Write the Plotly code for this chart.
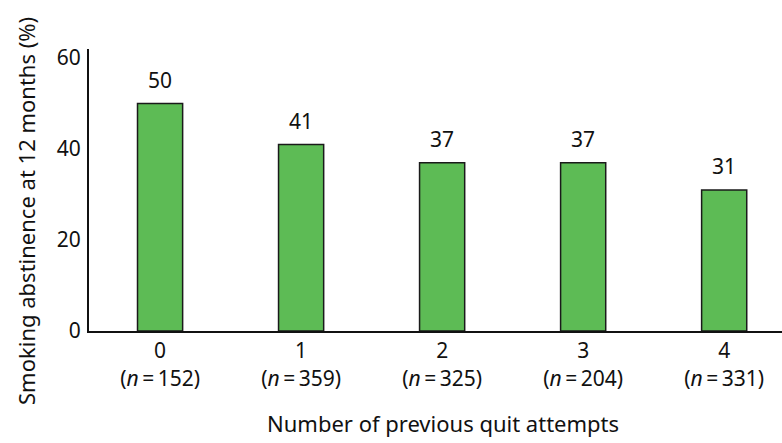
import plotly.graph_objects as go

# Quit attempts before the study, sample sizes and 12-month abstinence
attempts = [0, 1, 2, 3, 4]
sample_sizes = [152, 359, 325, 204, 331]
abstinence = [50, 41, 37, 37, 31]

FONT = "Noto Sans"
SIZE = 21
TITLE_SIZE = 22
tick_text = [f"{a}<br>(<i>n</i>\u2009=\u2009{n})" for a, n in zip(attempts, sample_sizes)]

fig = go.Figure(
    go.Bar(
        x=attempts,
        y=abstinence,
        width=0.32,
        marker=dict(color="#5dbb55", line=dict(color="#1a1a1a", width=1.5)),
        hoverinfo="skip",
    )
)

# value labels above each bar
for a, v in zip(attempts, abstinence):
    fig.add_annotation(
        x=a, y=v, text=str(v), showarrow=False,
        yanchor="bottom", yshift=8,
        font=dict(family=FONT, size=SIZE, color="#111"),
    )

# axis titles
fig.add_annotation(
    xref="paper", yref="paper", x=0.5, y=0, xshift=7, yshift=-92,
    text="Number of previous quit attempts", showarrow=False,
    yanchor="middle", xanchor="center",
    font=dict(family=FONT, size=TITLE_SIZE, color="#111"),
)
fig.add_annotation(
    xref="paper", yref="paper", x=0, y=0.5, xshift=-63, yshift=-21,
    text="Smoking abstinence at 12 months (%)", showarrow=False,
    textangle=-90, xanchor="center", yanchor="middle",
    font=dict(family=FONT, size=TITLE_SIZE, color="#111"),
)

fig.update_layout(
    width=782, height=443,
    margin=dict(l=89, r=0, t=49, b=112),
    paper_bgcolor="white", plot_bgcolor="white",
    showlegend=False,
    font=dict(family=FONT, size=SIZE, color="#111"),
    xaxis=dict(
        range=[-0.504, 4.41],
        tickvals=attempts, ticktext=tick_text,
        showline=True, linecolor="#111", linewidth=2,
        showgrid=False, zeroline=False, ticks="",
        tickfont=dict(family=FONT, size=SIZE, color="#111"),
    ),
    yaxis=dict(
        range=[0, 62],
        tickvals=[0, 20, 40, 60],
        showline=True, linecolor="#111", linewidth=2,
        showgrid=False, zeroline=False, ticks="",
        ticklabelstandoff=2,
        tickfont=dict(family=FONT, size=SIZE, color="#111"),
    ),
)

fig.write_html("out.html")
